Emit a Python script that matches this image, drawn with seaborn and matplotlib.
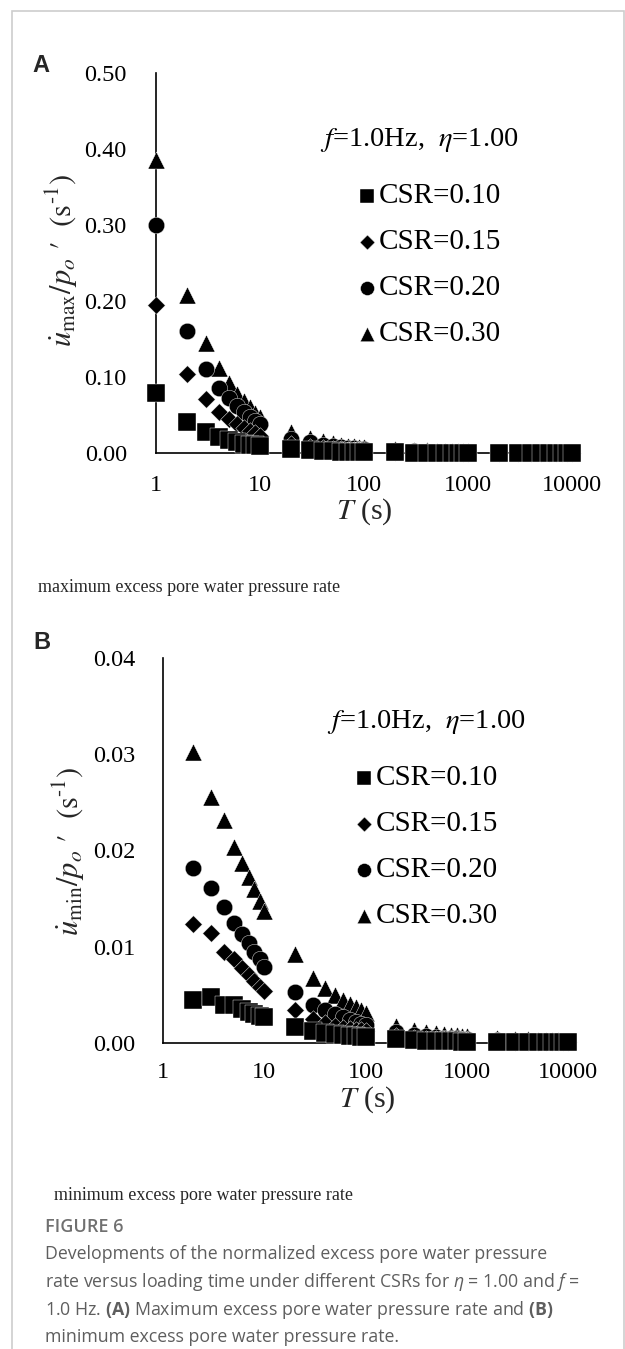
import matplotlib
matplotlib.use("Agg")
import matplotlib.pyplot as plt
import seaborn as sns
from matplotlib.patches import Rectangle
from matplotlib.ticker import FixedLocator, FixedFormatter, NullLocator

# ---------------------------------------------------------------- data
# loading time T (s)
T_A = [1, 2, 3, 4, 5, 6, 7, 8, 9, 10,
       20, 30, 40, 50, 60, 70, 80, 90, 100,
       200, 300, 400, 500, 600, 700, 800, 900, 1000,
       2000, 3000, 4000, 5000, 6000, 7000, 8000, 9000, 10000]
T_B = T_A[1:]

csr_labels = ["CSR=0.10", "CSR=0.15", "CSR=0.20", "CSR=0.30"]

# (A) normalized maximum excess pore water pressure rate (1/s)
max_csr010 = [0.079, 0.041, 0.028, 0.021, 0.017, 0.014, 0.012, 0.011, 0.010, 0.009,
              0.0048, 0.0034, 0.0027, 0.0022, 0.0019, 0.0017, 0.0015, 0.0014, 0.0013,
              0.0008, 0.0006, 0.0005, 0.0004, 0.0004, 0.0003, 0.0003, 0.0003, 0.0003,
              0.0002, 0.0001, 0.0001, 0.0001, 0.0001, 0.0001, 0.0001, 0.0001, 0.0001]
max_csr015 = [0.195, 0.104, 0.071, 0.054, 0.045, 0.038, 0.033, 0.029, 0.026, 0.023,
              0.012, 0.0085, 0.0066, 0.0055, 0.0047, 0.0041, 0.0037, 0.0033, 0.0030,
              0.0017, 0.0012, 0.0010, 0.0009, 0.0008, 0.0007, 0.0007, 0.0006, 0.0006,
              0.0004, 0.0003, 0.0003, 0.0003, 0.0002, 0.0002, 0.0002, 0.0002, 0.0002]
max_csr020 = [0.300, 0.160, 0.110, 0.086, 0.072, 0.062, 0.054, 0.047, 0.042, 0.038,
              0.019, 0.014, 0.011, 0.0092, 0.0080, 0.0071, 0.0064, 0.0058, 0.0053,
              0.0030, 0.0022, 0.0018, 0.0016, 0.0014, 0.0013, 0.0012, 0.0011, 0.0011,
              0.0007, 0.0006, 0.0005, 0.0005, 0.0004, 0.0004, 0.0004, 0.0004, 0.0003]
max_csr030 = [0.385, 0.208, 0.145, 0.112, 0.092, 0.078, 0.068, 0.060, 0.053, 0.048,
              0.028, 0.020, 0.016, 0.013, 0.011, 0.0098, 0.0088, 0.0080, 0.0073,
              0.0052, 0.0042, 0.0036, 0.0032, 0.0029, 0.0027, 0.0025, 0.0024, 0.0022,
              0.0015, 0.0013, 0.0012, 0.0011, 0.0010, 0.0010, 0.0009, 0.0009, 0.0008]

# (B) normalized minimum excess pore water pressure rate (1/s)
min_csr010 = [0.0045, 0.0048, 0.0040, 0.0039, 0.0035, 0.0032, 0.0030, 0.0028, 0.0027,
              0.0017, 0.0012, 0.0010, 0.0009, 0.0008, 0.0007, 0.0007, 0.0006, 0.0006,
              0.0004, 0.0003, 0.0002, 0.0002, 0.0002, 0.0002, 0.0002, 0.0001, 0.0001,
              0.0001, 0.0001, 0.0001, 0.0001, 0.0001, 0.0001, 0.0001, 0.0001, 0.0001]
min_csr015 = [0.0124, 0.0114, 0.0095, 0.0087, 0.0078, 0.0071, 0.0064, 0.0058, 0.0054,
              0.0034, 0.0025, 0.0021, 0.0018, 0.0016, 0.0015, 0.0014, 0.0013, 0.0012,
              0.0007, 0.0005, 0.0004, 0.0004, 0.0003, 0.0003, 0.0003, 0.0003, 0.0003,
              0.0002, 0.0001, 0.0001, 0.0001, 0.0001, 0.0001, 0.0001, 0.0001, 0.0001]
min_csr020 = [0.0182, 0.0161, 0.0141, 0.0125, 0.0113, 0.0104, 0.0095, 0.0087, 0.0079,
              0.0053, 0.0040, 0.0034, 0.0030, 0.0027, 0.0024, 0.0022, 0.0020, 0.0019,
              0.0011, 0.0008, 0.0007, 0.0006, 0.0005, 0.0005, 0.0005, 0.0004, 0.0004,
              0.0003, 0.0002, 0.0002, 0.0002, 0.0002, 0.0002, 0.0001, 0.0001, 0.0001]
min_csr030 = [0.0302, 0.0256, 0.0232, 0.0204, 0.0187, 0.0172, 0.0160, 0.0148, 0.0137,
              0.0092, 0.0068, 0.0057, 0.0050, 0.0045, 0.0041, 0.0037, 0.0034, 0.0031,
              0.0018, 0.0013, 0.0011, 0.0010, 0.0009, 0.0008, 0.0008, 0.0007, 0.0007,
              0.0005, 0.0004, 0.0004, 0.0003, 0.0003, 0.0003, 0.0003, 0.0002, 0.0002]

x_ticks = [1, 10, 100, 1000, 10000]
x_ticklabels = ["1", "10", "100", "1000", "10000"]
yticks_A = [0.0, 0.1, 0.2, 0.3, 0.4, 0.5]
yticks_B = [0.0, 0.01, 0.02, 0.03, 0.04]

# ---------------------------------------------------------------- style
sns.set_style("white")
plt.rcParams["font.family"] = ["Liberation Serif", "DejaVu Serif"]
plt.rcParams["mathtext.fontset"] = "custom"
plt.rcParams["mathtext.rm"] = "Open Sans"
plt.rcParams["mathtext.it"] = "Open Sans:italic"
plt.rcParams["mathtext.bf"] = "Open Sans:bold"

W, H = 625, 1349
fig = plt.figure(figsize=(W / 100, H / 100), dpi=100)
fig.patch.set_facecolor("white")


def fx(x):
    return x / W


def fy(y):
    return 1 - y / H


# card outline
fig.add_artist(Rectangle((fx(12), fy(1400)), fx(612), (1400 - 11) / H,
                         transform=fig.transFigure, fill=False,
                         edgecolor="#cdcdcd", linewidth=1.2))

# marker drawing order: triangles at the back, squares in front
series_style = [("^", 150), ("o", 140), ("D", 80), ("s", 150)]


def draw_panel(rect, T, series, yticks, ymax, ypad, xpad, legend_xy, header_xy):
    ax = fig.add_axes(rect)
    for (lab, vals), (mk, s) in zip(series, series_style):
        sns.scatterplot(x=T, y=vals, marker=mk, s=s, color="black",
                        edgecolor="white", linewidth=0.3, clip_on=False,
                        zorder=3, ax=ax, label=lab, legend=False)
    ax.set_xscale("log")
    ax.set_xlim(1, 10000)
    ax.set_ylim(0, ymax)
    ax.xaxis.set_major_locator(FixedLocator(x_ticks))
    ax.xaxis.set_major_formatter(FixedFormatter(x_ticklabels))
    ax.xaxis.set_minor_locator(NullLocator())
    ax.set_yticks(yticks)
    ax.set_yticklabels([f"{v:.2f}" for v in yticks])
    for side in ("top", "right"):
        ax.spines[side].set_visible(False)
    for side in ("left", "bottom"):
        ax.spines[side].set_color("black")
        ax.spines[side].set_linewidth(1.2)
    ax.tick_params(axis="both", which="major", direction="in", length=5,
                   width=1.2, color="black", labelsize=17.5, labelcolor="black")
    ax.tick_params(axis="y", pad=ypad)
    ax.tick_params(axis="x", pad=xpad)
    ax.set_facecolor("none")

    # legend in CSR order
    hs, ls = ax.get_legend_handles_labels()
    order = [ls.index(l) for l in csr_labels]
    leg = ax.legend([hs[i] for i in order], [ls[i] for i in order],
                    loc="upper left",
                    bbox_to_anchor=(fx(legend_xy[0]), fy(legend_xy[1])),
                    bbox_transform=fig.transFigure, frameon=False,
                    fontsize=21, handlelength=0.6, handletextpad=0.12,
                    labelspacing=0.67, borderpad=0, borderaxespad=0,
                    markerscale=0.85)
    for t in leg.get_texts():
        t.set_color("black")
    fig.text(fx(header_xy[0]), fy(header_xy[1]), r"$f$=1.0Hz,  $\eta$=1.00",
             fontsize=20.5, ha="left", va="center", math_fontfamily="stix",
             color="black")
    return ax


ax_a = draw_panel([fx(156), fy(453), fx(572 - 156), (453 - 73) / H], T_A,
                  list(zip(csr_labels[::-1],
                           [max_csr030, max_csr020, max_csr015, max_csr010])),
                  yticks_A, 0.5, 21, 16, (358, 183), (320, 140))
ax_b = draw_panel([fx(163), fy(1043), fx(568 - 163), (1043 - 658) / H], T_B,
                  list(zip(csr_labels[::-1],
                           [min_csr030, min_csr020, min_csr015, min_csr010])),
                  yticks_B, 0.04, 20, 14, (355, 765), (327, 722))

# axis titles
fig.text(fx(364), fy(512), r"$T$ (s)", fontsize=21.5, ha="center", va="center",
         math_fontfamily="stix")
fig.text(fx(367), fy(1100), r"$T$ (s)", fontsize=21.5, ha="center", va="center",
         math_fontfamily="stix")
fig.text(fx(62), fy(260),
         r"$\dot{u}_{\mathrm{max}}/p_o\ \prime\ \ (\mathrm{s}^{\text{-1}})$",
         fontsize=22, rotation=90, ha="center", va="center", math_fontfamily="stix")
fig.text(fx(69), fy(851),
         r"$\dot{u}_{\mathrm{min}}/p_o\ \prime\ \ (\mathrm{s}^{\text{-1}})$",
         fontsize=22, rotation=90, ha="center", va="center", math_fontfamily="stix")

# panel letters
fig.text(fx(32), fy(66), "A", fontsize=17, fontweight="bold",
         family="Liberation Sans", ha="left", va="center")
fig.text(fx(33), fy(643), "B", fontsize=17, fontweight="bold",
         family="Liberation Sans", ha="left", va="center")

# sub-captions
fig.text(fx(38), fy(588), "maximum excess pore water pressure rate", fontsize=13,
         ha="left", va="center")
fig.text(fx(54), fy(1196), "minimum excess pore water pressure rate", fontsize=13,
         ha="left", va="center")

# figure caption
cap_kw = dict(family="Open Sans", fontsize=12.8, color="#5e5e5e", ha="left",
              va="center")
fig.text(fx(45), fy(1227), "FIGURE 6", family="Open Sans", fontsize=13,
         fontweight="semibold", color="#707070", ha="left", va="center")
fig.text(fx(45), fy(1254),
         "Developments of the normalized excess pore water pressure", **cap_kw)
fig.text(fx(45), fy(1282),
         r"rate versus loading time under different CSRs for $\eta$ = 1.00 and $f$ =",
         **cap_kw)
fig.text(fx(45), fy(1310),
         r"1.0 Hz. $\mathbf{(A)}$ Maximum excess pore water pressure rate and $\mathbf{(B)}$",
         **cap_kw)
fig.text(fx(45), fy(1337), "minimum excess pore water pressure rate.", **cap_kw)

fig.savefig("out.png", dpi=100, facecolor="white")
